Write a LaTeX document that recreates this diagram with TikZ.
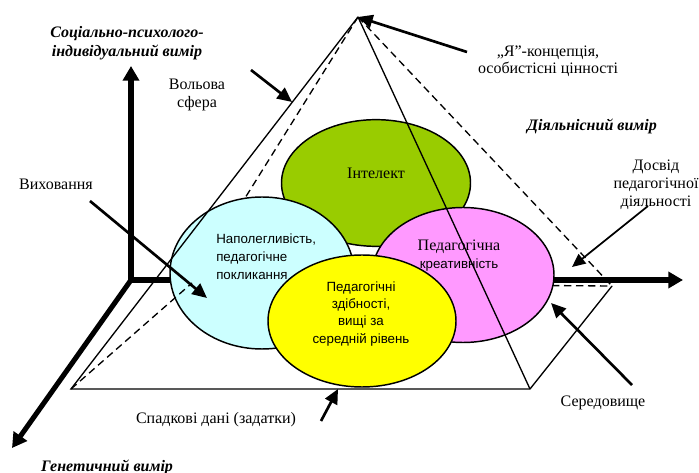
\documentclass[tikz,border=0pt]{standalone}
\usepackage{fontspec}
\setmainfont{Liberation Serif}
\setsansfont{Liberation Sans}
\usetikzlibrary{arrows.meta,shapes.geometric}
\begin{document}
\begin{tikzpicture}[x=0.75pt,y=-0.75pt,
  axis/.style={line width=3.8pt, line join=miter},
  axisboth/.style={axis, {Triangle[length=11pt,width=12pt]}-{Triangle[length=11pt,width=12pt]}},
  axisone/.style={axis, -{Triangle[length=11pt,width=12pt]}},
  hint/.style={line width=2pt, -{Triangle[length=11pt,width=10pt]}},
  thinhint/.style={line width=1.3pt, -{Triangle[length=10pt,width=9pt]}},
  edge/.style={line width=1pt},
  hidden/.style={line width=1pt, dash pattern=on 5.5pt off 3.5pt},
  blob/.style={ellipse, draw, line width=1.1pt, inner sep=0pt},
  lbl/.style={font=\fontsize{12}{13.5}\selectfont, align=center, inner sep=0pt},
  dim/.style={font=\fontsize{12}{14}\selectfont\bfseries\itshape, align=center, inner sep=0pt},
  inner/.style={font=\fontsize{10}{13.5}\selectfont\sffamily, inner sep=0pt}]
\useasboundingbox (0,0) rectangle (699,473);
% key points
\coordinate (O) at (131,280);
\coordinate (Ytip) at (131,66);
\coordinate (Xtip) at (683,280);
\coordinate (Ztip) at (12,448);
\coordinate (A) at (358,17);
\coordinate (FL) at (71,389);
\coordinate (FR) at (530,389);
\coordinate (BR) at (612,286);
\coordinate (BL) at (192,283);
% axes
\draw[axisboth] (Ytip) -- (O) -- (Xtip);
\draw[axisone] (O) -- (Ztip);
% hidden edges
\draw[hidden] (A) -- (BL);
\draw[hidden] (BL) -- (BR);
\draw[hidden] (A) -- (BR);
% ellipses
\node[blob, fill={rgb,255:red,153;green,204;blue,0}, minimum width=141.75pt, minimum height=95pt] (green) at (376,183) {};
\node[blob, fill={rgb,255:red,204;green,255;blue,255}, minimum width=138pt, minimum height=114pt] (cyan) at (262,273) {};
\node[blob, fill={rgb,255:red,255;green,153;blue,255}, minimum width=136.5pt, minimum height=101.25pt] (pink) at (463,275) {};
\node[blob, fill={rgb,255:red,255;green,255;blue,0}, minimum width=141pt, minimum height=99pt] (yellow) at (362,321) {};
% visible edges
\draw[hidden] (FL) -- (BL);
\draw[edge] (A) -- (FL) -- (FR) -- (BR);
\draw[edge] (A) -- (FR);
% ellipse texts
\node[lbl] (tint) at (376,173) {Інтелект};
\node[inner, align=left, anchor=west] (tcyan) at (216,257) {Наполегливість,\\педагогічне\\покликання};
\node[lbl] (tpink1) at (459,247) {Педагогічна};
\node[inner] (tpink2) at (459,265) {креативність};
\node[inner, align=center, font=\fontsize{10}{12.8}\selectfont\sffamily] (tyel) at (361,314) {Педагогічні\\здібності,\\вищі за\\середній рівень};
% outer labels
\node[dim] (soc) at (127,43) {Соціально-психолого-\\індивідуальний вимір};
\node[dim] (act) at (592,126) {Діяльнісний вимір};
\node[dim] (gen) at (107,467) {Генетичний вимір};
\node[lbl] (vol) at (197,95) {Вольова\\сфера};
\node[lbl, font=\fontsize{12}{12.5}\selectfont] (ya) at (548,61) {„Я”-концепція,\\особистісні цінності};
\node[lbl] (dosv) at (656,185) {Досвід\\педагогічної\\діяльності};
\node[lbl] (vyh) at (56,184) {Виховання};
\node[lbl] (spad) at (216,420) {Спадкові дані (задатки)};
\node[lbl] (sered) at (603,403) {Середовище};
% pointer arrows
\coordinate (volT) at (251,70);   \coordinate (volH) at (292,102);
\coordinate (yaT) at (467,52);
\coordinate (dosT) at (648,206);  \coordinate (dosH) at (572,267);
\coordinate (vyhT) at (90,201);   \coordinate (vyhH) at (207,298);
\coordinate (spT) at (321,421);   \coordinate (spH) at (338,389);
\coordinate (seT) at (632,385);   \coordinate (seH) at (551,303);
\draw[hint] (volT) -- (volH);
\draw[hint] (yaT) -- (A);
\draw[thinhint] (dosT) -- (dosH);
\draw[hint] (vyhT) -- (vyhH);
\draw[hint] (spT) -- (spH);
\draw[hint] (seT) -- (seH);
\end{tikzpicture}
\end{document}
